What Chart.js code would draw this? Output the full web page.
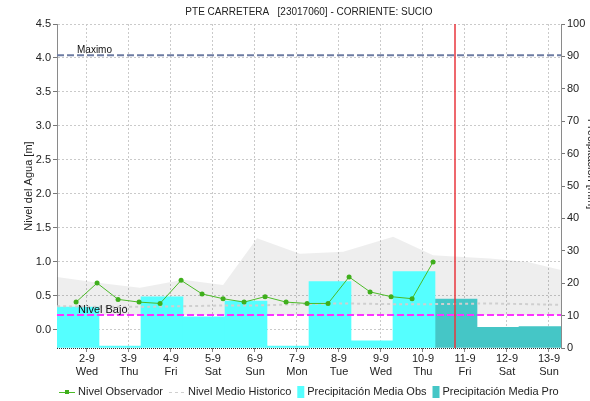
<!DOCTYPE html>
<html>
<head>
<meta charset="utf-8">
<script src="https://cdn.jsdelivr.net/npm/chart.js@4.4.1/dist/chart.umd.min.js"></script>
<style>
  html, body { margin: 0; padding: 0; background: #fff; overflow: hidden; }
  #wrap { width: 590px; height: 401px; position: relative; }
</style>
</head>
<body>
<div id="wrap"><canvas id="chart" width="590" height="401"></canvas></div>
<script>
// Station and series
const stationTitle = 'PTE CARRETERA   [23017060] - CORRIENTE: SUCIO';
const dayLabels = ['2-9', '3-9', '4-9', '5-9', '6-9', '7-9', '8-9', '9-9', '10-9', '11-9', '12-9', '13-9'];
const weekDays = ['Wed', 'Thu', 'Fri', 'Sat', 'Sun', 'Mon', 'Tue', 'Wed', 'Thu', 'Fri', 'Sat', 'Sun'];
const dayTicks = [0, 1, 2, 3, 4, 5, 6, 7, 8, 9, 10, 11];
const levelTicks = [0, 0.5, 1, 1.5, 2, 2.5, 3, 3.5, 4, 4.5];

// Observed water level, 12-hourly readings (time in days, level in m)
const obsDays = [-0.26, 0.24, 0.74, 1.24, 1.74, 2.24, 2.74, 3.24, 3.74, 4.24, 4.74, 5.24, 5.74, 6.24, 6.74, 7.24, 7.74, 8.24];
const obsLevel = [0.41, 0.69, 0.45, 0.41, 0.39, 0.73, 0.53, 0.46, 0.41, 0.49, 0.41, 0.39, 0.39, 0.78, 0.56, 0.49, 0.46, 1.00];

// Historical envelope and mean level
const histDays = [-0.71, 0.31, 1.26, 2.29, 3.24, 4.05, 5.07, 6.10, 7.29, 8.24, 9.60, 10.50, 11.29];
const histMax = [0.78, 0.69, 0.62, 0.74, 0.66, 1.35, 1.12, 1.15, 1.37, 1.10, 1.05, 1.00, 0.88];
const histMin = [0.22, 0.22, 0.22, 0.22, 0.22, 0.22, 0.22, 0.22, 0.22, 0.22, 0.22, 0.22, 0.22];
const histMean = [0.35, 0.34, 0.34, 0.35, 0.36, 0.36, 0.38, 0.39, 0.38, 0.38, 0.39, 0.38, 0.37];

// Daily precipitation [mm]: observed and forecast
const rainObs = [12.6, 0.6, 15.8, 9.6, 14.5, 0.6, 20.5, 2.2, 23.6, null, null, null];
const rainPro = [null, null, null, null, null, null, null, null, null, 15.1, 6.4, 6.6];

// Reference levels and current time
const levelMax = 4.04;
const levelLow = 0.22;
const nowDay = 8.76;

const FONT = '"Liberation Sans", Arial, sans-serif';
Chart.defaults.font.family = FONT;
Chart.defaults.font.size = 11;
Chart.defaults.color = '#222';

const COL_OBS = '#4cbb28';
const COL_MEAN = '#cfcfcf';
const COL_RAIN_OBS = '#55ffff';
const COL_RAIN_PRO = '#45c6c6';

const xy = (xs, ys) => xs.map((v, i) => ({ x: v, y: ys[i] }));

const decor = {
  id: 'decor',
  afterDatasetsDraw(chart) {
    const { ctx, chartArea: a, scales: { x, y } } = chart;
    ctx.save();
    ctx.beginPath();
    ctx.rect(a.left, a.top, a.right - a.left, a.bottom - a.top);
    ctx.clip();

    const yMax = y.getPixelForValue(levelMax);
    const yLow = y.getPixelForValue(levelLow);
    ctx.lineWidth = 2;
    ctx.setLineDash([7, 3]);
    ctx.strokeStyle = '#6d7ca3';
    ctx.beginPath(); ctx.moveTo(a.left, yMax); ctx.lineTo(a.right, yMax); ctx.stroke();
    ctx.strokeStyle = '#ff33ff';
    ctx.beginPath(); ctx.moveTo(a.left, yLow); ctx.lineTo(a.right, yLow); ctx.stroke();
    ctx.setLineDash([]);

    ctx.fillStyle = '#111';
    ctx.textBaseline = 'alphabetic';
    ctx.textAlign = 'left';
    ctx.font = '10px ' + FONT;
    ctx.fillText('Maximo', a.left + 20, yMax - 2);
    ctx.font = '11px ' + FONT;
    ctx.fillText('Nivel Bajo', a.left + 21, yLow - 2);

    // current time marker
    const xn = Math.round(x.getPixelForValue(nowDay));
    ctx.strokeStyle = '#e8363c';
    ctx.lineWidth = 1.5;
    ctx.beginPath(); ctx.moveTo(xn, a.top); ctx.lineTo(xn, a.bottom); ctx.stroke();
    ctx.restore();

    // dotted baseline of the time axis
    ctx.save();
    ctx.strokeStyle = '#333';
    ctx.lineWidth = 1;
    ctx.setLineDash([1, 1]);
    ctx.beginPath(); ctx.moveTo(a.left, a.bottom + 0.5); ctx.lineTo(a.right, a.bottom + 0.5); ctx.stroke();
    ctx.restore();
  },
  afterDraw(chart) {
    const { ctx, chartArea: a } = chart;
    const cx = (a.left + a.right) / 2;
    const cy = (a.top + a.bottom) / 2;
    ctx.save();
    ctx.fillStyle = '#222';
    ctx.textBaseline = 'middle';

    // title
    ctx.font = '10px ' + FONT;
    ctx.textAlign = 'center';
    ctx.fillText(stationTitle, cx, 12);

    // axis titles
    ctx.font = '11px ' + FONT;
    ctx.save();
    ctx.translate(29, cy);
    ctx.rotate(-Math.PI / 2);
    ctx.fillText('Nivel del Agua [m]', 0, 0);
    ctx.restore();
    ctx.save();
    ctx.translate(591, cy - 22);
    ctx.rotate(Math.PI / 2);
    ctx.fillText('Precipitación [mm]', 0, 0);
    ctx.restore();

    // legend
    const items = [
      { kind: 'line', text: 'Nivel Observador' },
      { kind: 'dash', text: 'Nivel Medio Historico' },
      { kind: 'box', color: COL_RAIN_OBS, text: 'Precipitación Media Obs' },
      { kind: 'box', color: COL_RAIN_PRO, text: 'Precipitación Media Pro' }
    ];
    ctx.textAlign = 'left';
    const sw = it => (it.kind === 'box' ? 7 : 16);
    const gapIn = 3, gapOut = 6;
    let total = 0;
    items.forEach((it, i) => {
      it.w = ctx.measureText(it.text).width;
      total += sw(it) + gapIn + it.w + (i < items.length - 1 ? gapOut : 0);
    });
    let lx = Math.round(cx - total / 2);
    const ly = 392;
    items.forEach(it => {
      if (it.kind === 'line') {
        ctx.strokeStyle = COL_OBS; ctx.lineWidth = 1;
        ctx.beginPath(); ctx.moveTo(lx, ly + 0.5); ctx.lineTo(lx + 16, ly + 0.5); ctx.stroke();
        ctx.fillStyle = '#3faf1c';
        ctx.fillRect(lx + 6, ly - 2, 4, 4);
      } else if (it.kind === 'dash') {
        ctx.strokeStyle = COL_MEAN; ctx.lineWidth = 1; ctx.setLineDash([3, 3]);
        ctx.beginPath(); ctx.moveTo(lx, ly + 0.5); ctx.lineTo(lx + 16, ly + 0.5); ctx.stroke();
        ctx.setLineDash([]);
      } else {
        ctx.fillStyle = it.color;
        ctx.fillRect(lx, ly - 6, 7, 12);
      }
      lx += sw(it) + gapIn;
      ctx.fillStyle = '#222';
      ctx.fillText(it.text, lx, ly);
      lx += it.w + gapOut;
    });
    ctx.restore();
  }
};

new Chart(document.getElementById('chart'), {
  type: 'line',
  data: {
    labels: dayLabels,
    datasets: [
      {
        label: 'Rango Historico',
        data: xy(histDays, histMax),
        xAxisID: 'x', yAxisID: 'y',
        borderWidth: 0, pointRadius: 0, tension: 0,
        backgroundColor: 'rgba(0,0,0,0.065)',
        fill: 1,
        order: 20
      },
      {
        label: 'Minimo Historico',
        data: xy(histDays, histMin),
        xAxisID: 'x', yAxisID: 'y',
        borderWidth: 0, pointRadius: 0, tension: 0,
        fill: false,
        order: 20
      },
      {
        type: 'bar',
        label: 'Precipitación Media Obs',
        data: rainObs,
        xAxisID: 'xb', yAxisID: 'y1',
        backgroundColor: COL_RAIN_OBS,
        borderWidth: 0,
        grouped: false,
        barPercentage: 1, categoryPercentage: 1,
        order: 10
      },
      {
        type: 'bar',
        label: 'Precipitación Media Pro',
        data: rainPro,
        xAxisID: 'xb', yAxisID: 'y1',
        backgroundColor: COL_RAIN_PRO,
        borderWidth: 0,
        grouped: false,
        barPercentage: 1, categoryPercentage: 1,
        order: 10
      },
      {
        label: 'Nivel Medio Historico',
        data: xy(histDays, histMean),
        xAxisID: 'x', yAxisID: 'y',
        borderColor: COL_MEAN, borderWidth: 2, borderDash: [3, 3],
        pointRadius: 0, tension: 0, fill: false,
        order: 5
      },
      {
        label: 'Nivel Observador',
        data: xy(obsDays, obsLevel),
        xAxisID: 'x', yAxisID: 'y',
        borderColor: COL_OBS, borderWidth: 1,
        pointRadius: 2.5, pointBackgroundColor: '#3faf1c', pointBorderWidth: 0,
        tension: 0, fill: false,
        order: 1
      }
    ]
  },
  options: {
    animation: false,
    responsive: false,
    maintainAspectRatio: false,
    layout: { padding: { top: 24, left: 0, right: 0, bottom: 0 } },
    plugins: { legend: { display: false }, title: { display: false }, tooltip: { enabled: false } },
    scales: {
      x: {
        type: 'linear',
        position: 'bottom',
        min: -0.714, max: 11.286,
        afterBuildTicks: s => { s.ticks = dayTicks.map(v => ({ value: v })); },
        afterFit: s => { s.height = 53; },
        ticks: {
          autoSkip: false, maxRotation: 0, padding: 0,
          callback: v => [dayLabels[v], weekDays[v]]
        },
        grid: { color: '#cacaca', drawTicks: true, tickLength: 4, tickColor: '#888' },
        border: { display: false, dash: [2, 2] }
      },
      xb: {
        type: 'category',
        display: false,
        offset: true
      },
      y: {
        position: 'left',
        min: -0.265, max: 4.5,
        afterBuildTicks: s => { s.ticks = levelTicks.map(v => ({ value: v })); },
        afterFit: s => { s.width = 57; },
        ticks: { padding: 2, callback: v => v.toFixed(1) },
        grid: { color: '#cacaca', drawTicks: true, tickLength: 4, tickColor: '#777', tickBorderDash: [] },
        border: { display: true, color: '#8a8a8a', dash: [2, 2] }
      },
      y1: {
        position: 'right',
        min: 0, max: 100,
        ticks: { stepSize: 10, padding: 2 },
        afterFit: s => { s.width = 29; },
        grid: { drawOnChartArea: false, drawTicks: true, tickLength: 4, tickColor: '#777' },
        border: { display: true, color: '#8a8a8a' }
      }
    }
  },
  plugins: [decor]
});
</script>
</body>
</html>
